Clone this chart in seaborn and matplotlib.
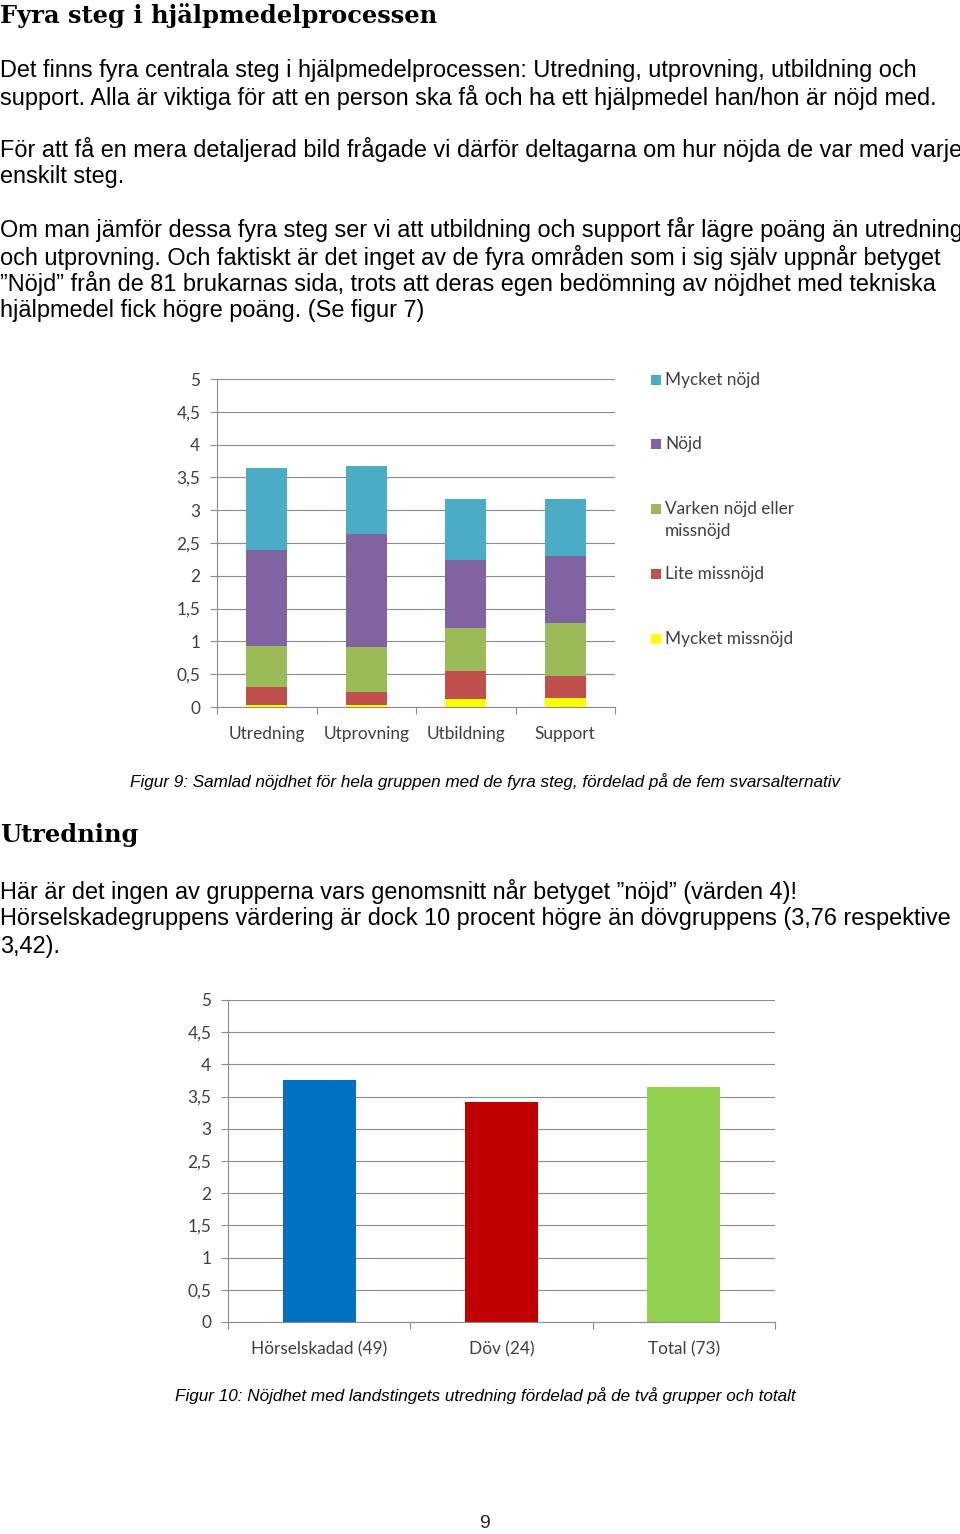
import matplotlib
matplotlib.use("Agg")
import matplotlib.pyplot as plt
import seaborn as sns
import numpy as np
import pandas as pd
from matplotlib.patches import Rectangle

# ---------------- data ----------------
steps = ["Utredning", "Utprovning", "Utbildning", "Support"]
series_names = ["Mycket missnöjd", "Lite missnöjd", "Varken nöjd eller\nmissnöjd", "Nöjd", "Mycket nöjd"]
mycket_missnojd = [0.035, 0.03, 0.12, 0.13]
lite_missnojd = [0.27, 0.20, 0.43, 0.35]
varken = [0.62, 0.68, 0.65, 0.80]
nojd = [1.47, 1.72, 1.04, 1.02]
mycket_nojd = [1.25, 1.05, 0.93, 0.87]
series_colors = ["#FFFF00", "#C0504D", "#9BBB59", "#8064A2", "#4BACC6"]

groups = ["Hörselskadad (49)", "Döv (24)", "Total (73)"]
group_values = [3.76, 3.42, 3.65]
group_colors = ["#0070C0", "#C00000", "#92D050"]

yticks = [0, 0.5, 1, 1.5, 2, 2.5, 3, 3.5, 4, 4.5, 5]
ytick_labels = ["0", "0,5", "1", "1,5", "2", "2,5", "3", "3,5", "4", "4,5", "5"]

# ---------------- figure ----------------
sns.set_theme(style="white")
plt.rcParams["font.family"] = ["Liberation Sans", "DejaVu Sans"]
W, H = 960, 1534
fig = plt.figure(figsize=(W / 100, H / 100), dpi=100)
fig.patch.set_facecolor("white")


def rect(l, t, r, b):
    return [l / W, 1 - b / H, (r - l) / W, (b - t) / H]


def ftext(x, y, s, **kw):
    fig.text(x / W, 1 - y / H, s, **kw)


body = dict(fontsize=16.9, family=["Liberation Sans", "DejaVu Sans"], va="center", ha="left", color="black")
head = dict(fontsize=17.4, family=["DejaVu Serif"], weight="bold", va="center", ha="left", color="black")
cap = dict(fontsize=12.3, family=["Liberation Sans", "DejaVu Sans"], style="italic", va="center", ha="left", color="black")

ftext(0, 15, "Fyra steg i hjälpmedelprocessen", **head)
lines1 = [
    (70, "Det finns fyra centrala steg i hjälpmedelprocessen: Utredning, utprovning, utbildning och"),
    (97, "support. Alla är viktiga för att en person ska få och ha ett hjälpmedel han/hon är nöjd med."),
    (150, "För att få en mera detaljerad bild frågade vi därför deltagarna om hur nöjda de var med varje"),
    (177, "enskilt steg."),
    (230, "Om man jämför dessa fyra steg ser vi att utbildning och support får lägre poäng än utredning"),
    (257, "och utprovning. Och faktiskt är det inget av de fyra områden som i sig själv uppnår betyget"),
    (284, "”Nöjd” från de 81 brukarnas sida, trots att deras egen bedömning av nöjdhet med tekniska"),
    (311, "hjälpmedel fick högre poäng. (Se figur 7)"),
]
for y, s in lines1:
    ftext(0, y, s, **body)

ftext(130, 782, "Figur 9: Samlad nöjdhet för hela gruppen med de fyra steg, fördelad på de fem svarsalternativ", **cap)
ftext(0, 835, "Utredning", **head)
lines2 = [
    (891, "Här är det ingen av grupperna vars genomsnitt når betyget ”nöjd” (värden 4)!"),
    (919, "Hörselskadegruppens värdering är dock 10 procent högre än dövgruppens (3,76 respektive"),
    (946, "3,42)."),
]
for y, s in lines2:
    ftext(0, y, s, **body)
ftext(175, 1396, "Figur 10: Nöjdhet med landstingets utredning fördelad på de två grupper och totalt", **cap)
ftext(484, 1524, "9", fontsize=14, family=["Liberation Sans"], ha="center", va="center")

chart_font = ["Lato", "DejaVu Sans"]
tick_color = "#404040"
grid_color = "#8C8C8C"
chart_fs = 12.4


def style_axes(ax, n):
    ax.set_ylim(0, 5)
    ax.set_xlim(-0.5, n - 0.5)
    ax.set_yticks(yticks)
    ax.set_yticklabels(ytick_labels, fontsize=chart_fs, color=tick_color, family=chart_font)
    ax.yaxis.grid(True, color=grid_color, linewidth=0.8)
    ax.xaxis.grid(False)
    ax.set_axisbelow(True)
    for s in ["top", "right"]:
        ax.spines[s].set_visible(False)
    for s in ["left", "bottom"]:
        ax.spines[s].set_visible(True)
        ax.spines[s].set_color(grid_color)
        ax.spines[s].set_linewidth(0.8)
    ax.tick_params(axis="y", which="major", left=True, length=5, width=0.8, color=grid_color, pad=7)
    ax.tick_params(axis="x", which="major", bottom=False, pad=8)
    ax.set_xticks(np.arange(-0.5, n, 1.0), minor=True)
    ax.tick_params(axis="x", which="minor", bottom=True, length=5, width=0.8, color=grid_color, direction="out")
    for lab in ax.get_xticklabels():
        lab.set_fontsize(chart_fs)
        lab.set_color(tick_color)
        lab.set_family(chart_font)
    ax.set_xlabel("")
    ax.set_ylabel("")


# ---------------- chart 1: stacked bars ----------------
ax1 = fig.add_axes(rect(217, 379, 615, 707))
stack = np.array([mycket_missnojd, lite_missnojd, varken, nojd, mycket_nojd])
cum = np.cumsum(stack, axis=0)
for i in range(len(series_names) - 1, -1, -1):
    df = pd.DataFrame({"step": steps, "value": cum[i]})
    sns.barplot(data=df, x="step", y="value", color=series_colors[i], width=0.41,
                saturation=1, linewidth=0, ax=ax1)
style_axes(ax1, len(steps))

# legend (manual layout to match the reference)
leg_rows = [(380, 4), (444, 3), (509, 2), (574, 1), (639, 0)]
for y, idx in leg_rows:
    fig.patches.append(Rectangle((651 / W, 1 - (y + 5) / H), 10 / W, 10 / H,
                                 transform=fig.transFigure, facecolor=series_colors[idx],
                                 edgecolor="none"))
    name = series_names[idx]
    parts = name.split("\n")
    for k, part in enumerate(parts):
        ftext(665, y + 22 * k, part, fontsize=chart_fs, family=chart_font, color=tick_color, va="center")

# ---------------- chart 2: simple bars ----------------
ax2 = fig.add_axes(rect(228, 1000, 775, 1322))
df2 = pd.DataFrame({"group": groups, "value": group_values})
sns.barplot(data=df2, x="group", y="value", hue="group", palette=group_colors,
            width=0.4, saturation=1, linewidth=0, legend=False, ax=ax2)
style_axes(ax2, len(groups))

fig.savefig("out.png", dpi=100, facecolor="white")
